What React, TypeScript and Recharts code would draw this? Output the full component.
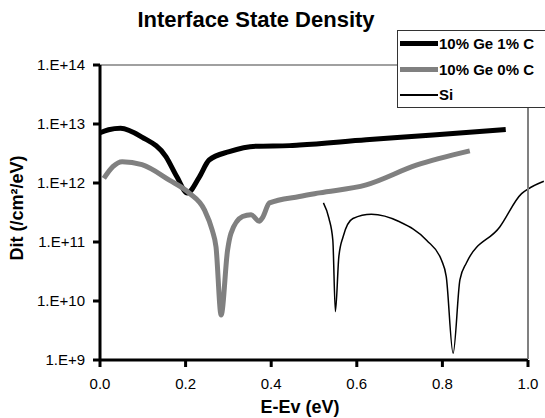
import { Label, Line, LineChart, ReferenceLine, XAxis, YAxis } from 'recharts'

// 10% Ge 1% C
const ge1cX = [0, 0.02, 0.048, 0.098, 0.154, 0.18, 0.204, 0.232, 0.255, 0.302, 0.365, 0.443, 0.466, 0.622, 0.778, 0.948]
const ge1cY = [7.1e12, 8.0e12, 8.5e12, 6.0e12, 2.8e12, 1.26e12, 6.8e11, 1.26e12, 2.45e12, 3.4e12, 4.2e12, 4.3e12, 4.4e12, 5.4e12, 6.5e12, 8.1e12]

// 10% Ge 0% C
const ge0cX = [0.009, 0.03, 0.052, 0.098, 0.162, 0.208, 0.244, 0.262, 0.271, 0.283, 0.298, 0.306, 0.333, 0.353, 0.372, 0.38, 0.396, 0.466, 0.513, 0.622, 0.739, 0.864]
const ge0cY = [1.2e12, 1.9e12, 2.3e12, 2.04e12, 1.12e12, 6.8e11, 3.5e11, 1.6e11, 8.3e10, 5.8e9, 7.2e10, 1.4e11, 2.7e11, 2.9e11, 2.24e11, 2.6e11, 4.6e11, 5.9e11, 6.8e11, 9.3e11, 2.0e12, 3.5e12]

// Si
const siX = [0.522, 0.535, 0.544, 0.55, 0.558, 0.568, 0.591, 0.634, 0.7, 0.763, 0.798, 0.809, 0.825, 0.841, 0.856, 0.934, 0.985, 1.0, 1.037]
const siY = [4.6e11, 2.5e11, 1.07e11, 6.6e9, 5.6e10, 1.23e11, 2.5e11, 2.95e11, 2.2e11, 1.07e11, 4.9e10, 2.6e10, 1.3e9, 2.3e10, 4.4e10, 1.8e11, 6.6e11, 7.9e11, 1.07e12]

const xTicks = [0, 0.2, 0.4, 0.6, 0.8, 1.0]
const yTicks = [1e9, 1e10, 1e11, 1e12, 1e13, 1e14]

const toPoints = (xs: number[], ys: number[]) => xs.map((x, i) => ({ x, y: ys[i] }))

const series = [
  { name: '10% Ge 1% C', data: toPoints(ge1cX, ge1cY), color: '#000000', width: 5 },
  { name: '10% Ge 0% C', data: toPoints(ge0cX, ge0cY), color: '#808080', width: 5 },
  { name: 'Si', data: toPoints(siX, siY), color: '#000000', width: 1.5 },
]

const FONT = '"Liberation Sans", Arial, sans-serif'

function LegendBox() {
  return (
    <div
      style={{
        position: 'absolute',
        left: 397,
        top: 30,
        width: 150,
        height: 78,
        border: '1px solid #333',
        background: '#fff',
        boxSizing: 'border-box',
        fontFamily: FONT,
        fontWeight: 'bold',
        fontSize: 15,
        color: '#000',
        zIndex: 2,
      }}
    >
      {series.map((s) => (
        <div key={s.name} style={{ display: 'flex', alignItems: 'center', height: 25.5, paddingLeft: 2 }}>
          <span style={{ width: 38, height: s.width, background: s.color, display: 'inline-block' }} />
          <span style={{ marginLeft: 1 }}>{s.name}</span>
        </div>
      ))}
    </div>
  )
}

export default function App() {
  const tickStyle = { fontSize: 15, fill: '#000', fontFamily: FONT }
  return (
    <div style={{ position: 'relative', width: 545, height: 418, background: '#fff', overflow: 'hidden' }}>
      <style>{'body{margin:0} .recharts-surface *{clip-path:none !important} .recharts-surface{overflow:visible}'}</style>
      <div
        style={{
          position: 'absolute',
          left: 0,
          top: 9,
          width: 512,
          textAlign: 'center',
          fontFamily: FONT,
          fontWeight: 'bold',
          fontSize: 22,
          lineHeight: '22px',
          color: '#000',
        }}
      >
        Interface State Density
      </div>
      <LineChart width={545} height={418} margin={{ top: 65, right: 17, bottom: 0, left: 0 }}>
        <ReferenceLine y={1e14} stroke="#808080" strokeWidth={1.5} ifOverflow="visible" />
        <XAxis
          type="number"
          dataKey="x"
          domain={[0, 1]}
          ticks={xTicks}
          allowDataOverflow
          height={58}
          tick={tickStyle}
          tickFormatter={(v: number) => v.toFixed(1)}
          axisLine={{ stroke: '#000', strokeWidth: 3 }}
          tickLine={{ stroke: '#000', strokeWidth: 3 }}
          tickSize={7}
          tickMargin={11}
        >
          <Label
            content={() => (
              <text x={300} y={413} textAnchor="middle" fontFamily={FONT} fontWeight="bold" fontSize={18} fill="#000">
                E-Ev (eV)
              </text>
            )}
          />
        </XAxis>
        <YAxis
          type="number"
          dataKey="y"
          scale="log"
          domain={[1e9, 1e14]}
          ticks={yTicks}
          allowDataOverflow
          width={100}
          tick={tickStyle}
          tickFormatter={(v: number) => `1.E+${Math.round(Math.log10(v))}`}
          axisLine={{ stroke: '#000', strokeWidth: 3 }}
          tickLine={{ stroke: '#000', strokeWidth: 3 }}
          tickSize={7}
          tickMargin={8}
        >
          <Label
            content={() => (
              <text
                x={17}
                y={208}
                transform="rotate(-90 17 208)"
                textAnchor="middle"
                dominantBaseline="central"
                fontFamily={FONT}
                fontWeight="bold"
                fontSize={18}
                fill="#000"
              >
                Dit (/cm²/eV)
              </text>
            )}
          />
        </YAxis>
        {series.map((s) => (
          <Line
            key={s.name}
            data={s.data}
            dataKey="y"
            name={s.name}
            type="monotone"
            stroke={s.color}
            strokeWidth={s.width}
            dot={false}
            activeDot={false}
            isAnimationActive={false}
          />
        ))}
      </LineChart>
      {/* plot-area right border */}
      <div style={{ position: 'absolute', left: 527, top: 65, width: 2, height: 294, background: '#808080', zIndex: 1 }} />
      <LegendBox />
    </div>
  )
}
